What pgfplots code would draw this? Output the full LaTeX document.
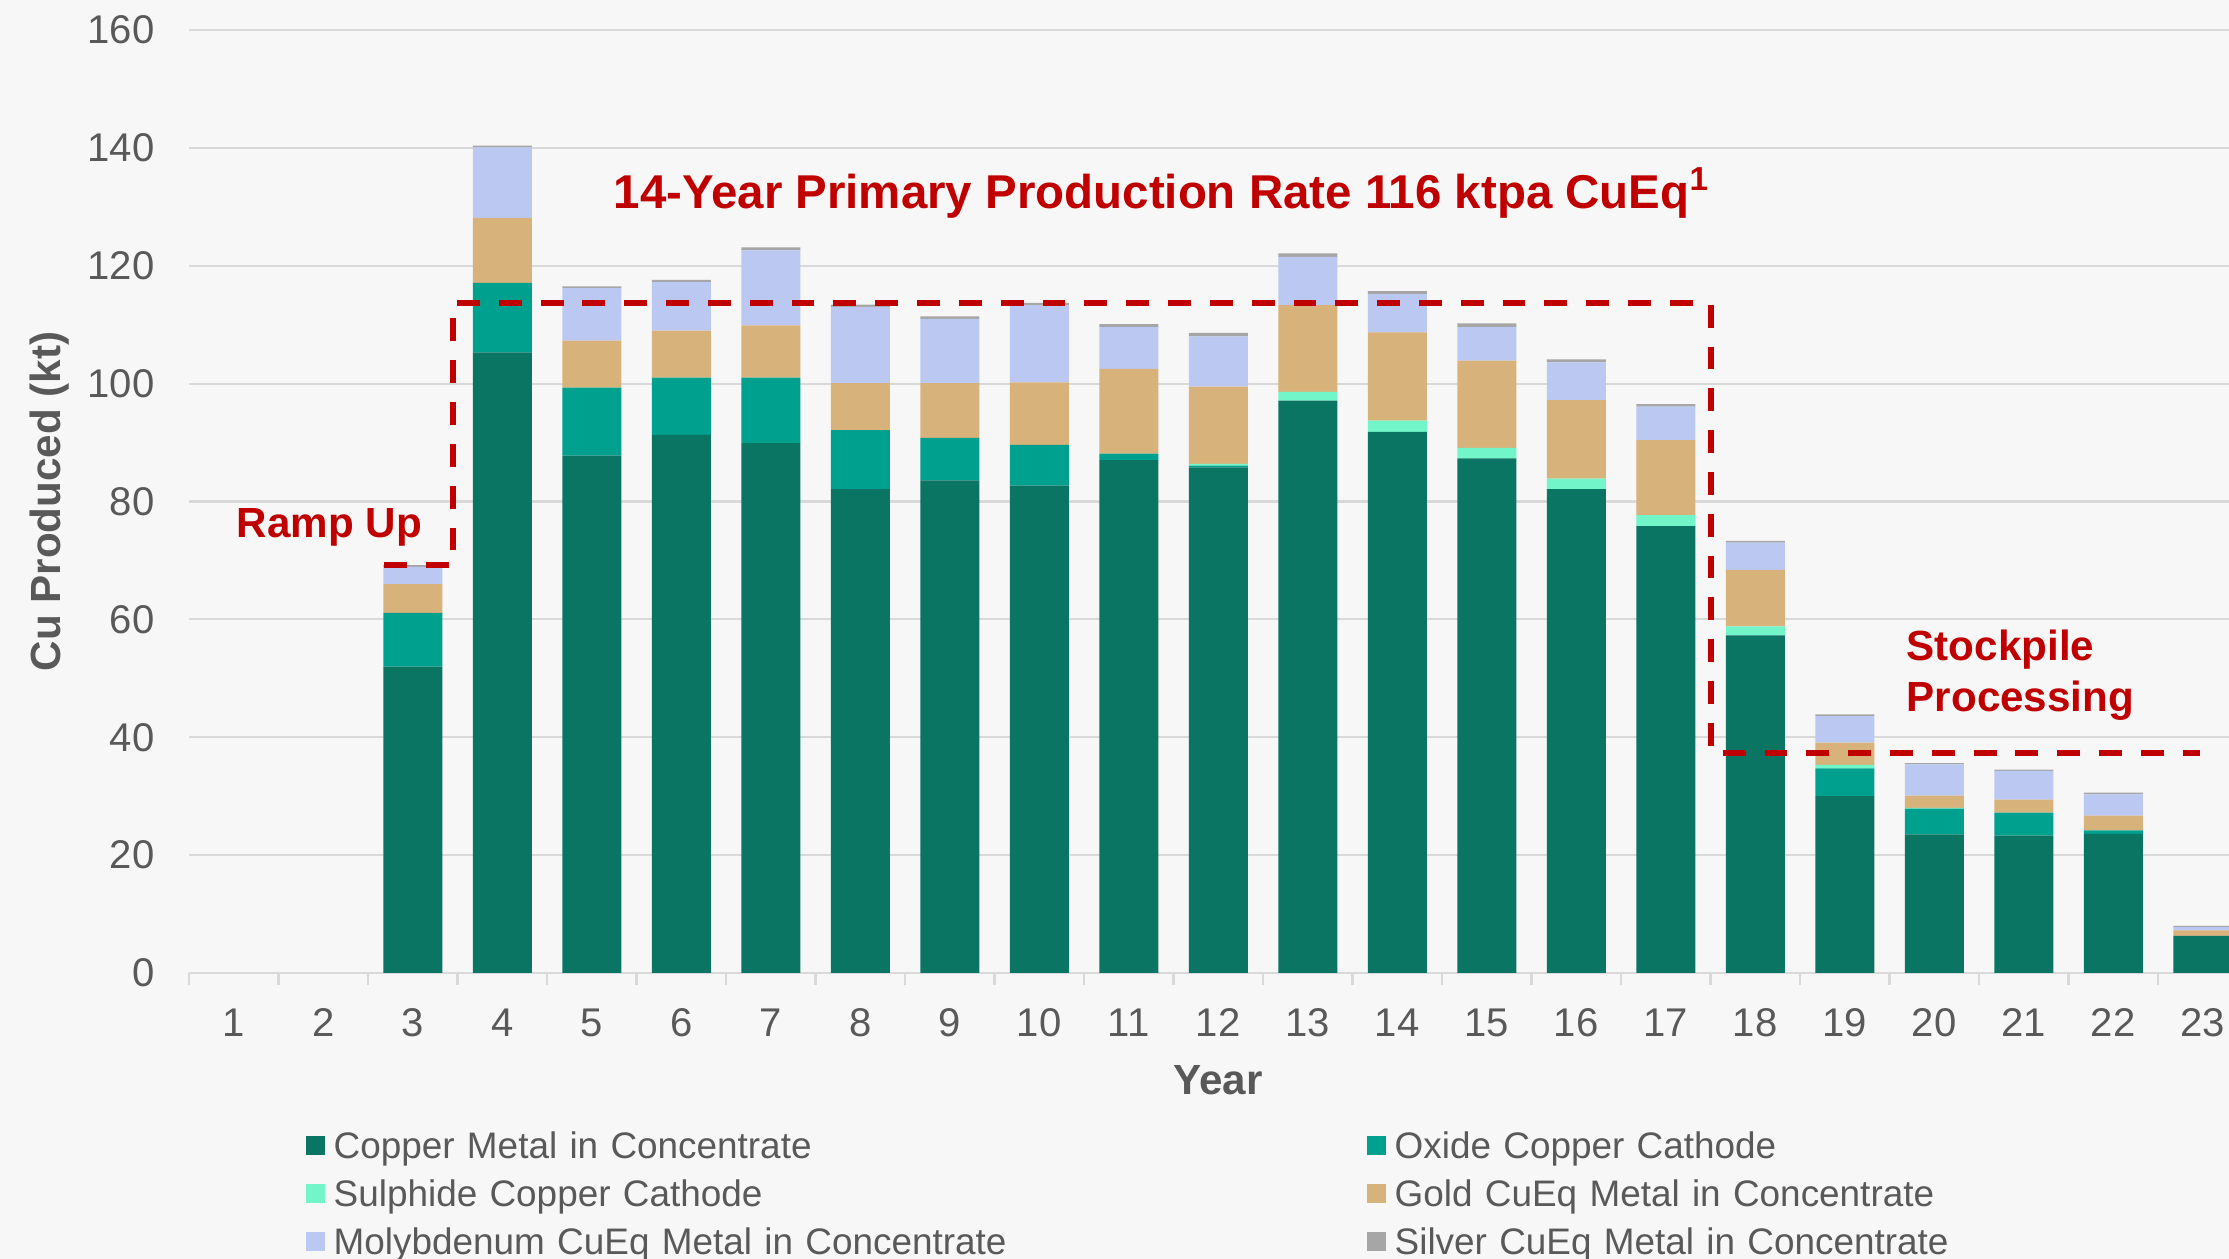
\documentclass[border=0pt]{standalone}
\usepackage{pgfplots}
\usepackage{pgfplotstable}
\pgfplotsset{compat=1.18}
\usepackage{fontspec}
\setmainfont{Liberation Sans}

\definecolor{bgc}{HTML}{F7F7F7}
\definecolor{gridc}{HTML}{D9D9D9}
\definecolor{txtc}{HTML}{595959}
\definecolor{redc}{HTML}{C00000}
\definecolor{cuc}{HTML}{0A7563}
\definecolor{oxc}{HTML}{00A08E}
\definecolor{suc}{HTML}{72F5C8}
\definecolor{auc}{HTML}{D7B27A}
\definecolor{moc}{HTML}{BAC8F2}
\definecolor{agc}{HTML}{A6A6A6}

% yearly production, kt (copper, oxide cathode, sulphide cathode, gold, moly, silver)
\pgfplotstableread{
yr cu ox su au mo ag
1 0 0 0 0 0 0
2 0 0 0 0 0 0
3 52.0 9.1 0 4.9 2.9 0.3
4 105.3 11.8 0 11.0 12.0 0.3
5 87.8 11.5 0 8.0 8.9 0.3
6 91.3 9.7 0 8.0 8.2 0.4
7 89.9 11.1 0 8.9 12.7 0.5
8 82.1 10.0 0 8.0 12.9 0.4
9 83.6 7.2 0 9.3 10.9 0.4
10 82.7 6.9 0 10.6 13.1 0.4
11 87.0 1.1 0 14.4 7.1 0.5
12 85.8 0.3 0.3 13.1 8.5 0.6
13 97.1 0 1.5 14.7 8.2 0.6
14 91.8 0 1.9 15.0 6.5 0.5
15 87.3 0 1.8 14.8 5.7 0.6
16 82.1 0 1.8 13.3 6.4 0.5
17 75.8 0 1.9 12.7 5.7 0.4
18 57.3 0 1.5 9.6 4.6 0.3
19 30.0 4.7 0.6 3.8 4.5 0.3
20 23.5 4.4 0.1 2.1 5.3 0.2
21 23.3 3.9 0 2.2 4.9 0.2
22 23.6 0.6 0 2.5 3.6 0.3
23 6.3 0 0 0.95 0.55 0.2
}\prodtable

\begin{document}
\begin{tikzpicture}
\fill[bgc] (0,0) rectangle (22.29,12.59);
\begin{axis}[
  at={(1.89cm,2.86cm)}, anchor=south west,
  scale only axis, width=20.585cm, height=9.43cm,
  ybar stacked, bar width=0.59cm,
  xmin=0.5, xmax=23.5, ymin=0, ymax=160,
  xtick={1,...,23}, ytick={0,20,...,160},
  minor xtick={0.5,1.5,...,23.5},
  major tick length=0pt, minor tick length=0.125cm, tick align=outside,
  minor tick style={draw=gridc, line width=0.75pt},
  axis x line*=bottom, axis y line*=left,
  x axis line style={draw=gridc, line width=0.75pt, -},
  y axis line style={draw=none},
  ymajorgrids, grid style={draw=gridc, line width=0.6pt},
  /pgf/number format/assume math mode=true,
  yticklabel style={font=\fontsize{11.4}{13}\selectfont, text=txtc, anchor=east, inner sep=0pt, xshift=-0.34cm},
  xticklabel style={font=\fontsize{11.4}{13}\selectfont, text=txtc, anchor=center, inner sep=0pt, yshift=-0.5cm},
  xlabel={Year}, ylabel={Cu Produced (kt)},
  xlabel style={font=\bfseries\fontsize{12}{14}\selectfont, text=txtc, at={(axis description cs:0.5,-0.1135)}, anchor=center},
  ylabel style={font=\bfseries\fontsize{12}{14}\selectfont, text=txtc, at={(axis description cs:-0.0675,0.5)}, anchor=center},
  legend columns=2, legend cell align=left,
  legend style={at={(0.05635,-0.1612)}, anchor=north west, draw=none, fill=none, inner sep=0pt,
    nodes={inner xsep=0.09cm, inner ysep=2pt, text height=7.4pt, text depth=2.25pt,
      text width=10.24cm, align=left, font=\fontsize{10.5}{12}\selectfont, text=txtc}},
  legend image code/.code={\fill[#1] (0cm,-0.055cm) rectangle (0.19cm,0.135cm);},
]
\addplot[fill=cuc, draw=none] table[x=yr, y=cu] \prodtable;
\addplot[fill=oxc, draw=none] table[x=yr, y=ox] \prodtable;
\addplot[fill=suc, draw=none] table[x=yr, y=su] \prodtable;
\addplot[fill=auc, draw=none] table[x=yr, y=au] \prodtable;
\addplot[fill=moc, draw=none] table[x=yr, y=mo] \prodtable;
\addplot[fill=agc, draw=none] table[x=yr, y=ag] \prodtable;
\legend{Copper Metal in Concentrate, Oxide Copper Cathode, Sulphide Copper Cathode, Gold CuEq Metal in Concentrate, Molybdenum CuEq Metal in Concentrate, Silver CuEq Metal in Concentrate}
\end{axis}
\begin{axis}[
  at={(1.89cm,2.86cm)}, anchor=south west,
  scale only axis, width=20.585cm, height=9.43cm,
  xmin=0.5, xmax=23.5, ymin=0, ymax=160,
  hide axis,
]
\addplot[redc, line width=1.7pt, dash pattern=on 6.5pt off 5.4pt, mark=none] coordinates {
  (2.68,69.2) (3.45,69.2) (3.45,113.6) (17.5,113.6) (17.5,37.4) (22.97,37.4)
};
\end{axis}
\node[anchor=base west, inner sep=0pt, font=\bfseries\fontsize{13.5}{16}\selectfont, text=redc] at (6.13,10.50) {14-Year Primary Production Rate 116 ktpa CuEq\textsuperscript{1}};
\node[anchor=base west, inner sep=0pt, font=\bfseries\fontsize{12}{14}\selectfont, text=redc] at (2.36,7.21) {Ramp Up};
\node[anchor=base west, inner sep=0pt, font=\bfseries\fontsize{12}{14}\selectfont, text=redc] at (19.06,5.98) {Stockpile};
\node[anchor=base west, inner sep=0pt, font=\bfseries\fontsize{12}{14}\selectfont, text=redc] at (19.06,5.47) {Processing};
\pgfresetboundingbox
\useasboundingbox (0,0) rectangle (22.29,12.59);
\end{tikzpicture}
\end{document}
